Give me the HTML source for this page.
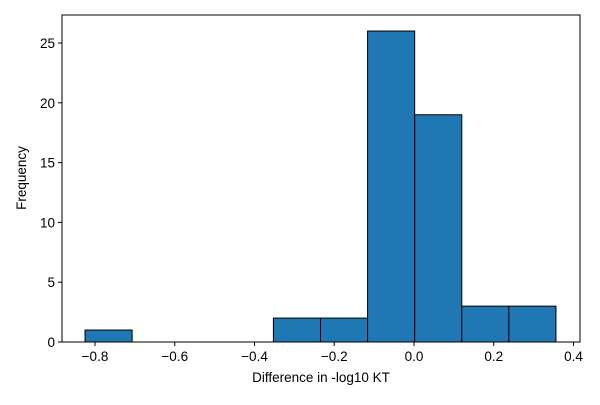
<!DOCTYPE html>
<html><head><meta charset="utf-8"><style>
body{margin:0;background:#fff}
svg text{font-family:"Liberation Sans","DejaVu Sans",sans-serif;font-size:13.5px;fill:#000}
</style></head><body>
<svg id="chart" width="600" height="400" viewBox="0 0 600 400" xmlns="http://www.w3.org/2000/svg">
<rect x="0" y="0" width="600" height="400" fill="#fff"/>
<g id="bars"></g>
<g id="axes"></g>
<text x="321" y="382" text-anchor="middle">Difference in -log10 KT</text>
<text transform="translate(26,178) rotate(-90)" text-anchor="middle">Frequency</text>
</svg>
<script>
const binStart = -0.825;
const binEnd = 0.356;
const counts = [1, 0, 0, 0, 2, 2, 26, 19, 3, 3];
const xTicks = [-0.8, -0.6, -0.4, -0.2, 0.0, 0.2, 0.4];
const xTickLabels = ["\u22120.8", "\u22120.6", "\u22120.4", "\u22120.2", "0.0", "0.2", "0.4"];
const yTicks = [0, 5, 10, 15, 20, 25];

const L = 62, R = 580, T = 15, B = 342;
const xPxPerUnit = 398.75, x0px = 414;
function xs(v){ return x0px + v * xPxPerUnit; }
const yPxPerUnit = 11.96;
function ys(v){ return B - v * yPxPerUnit; }
const NS = "http://www.w3.org/2000/svg";
function mk(tag, attrs, parent){
  const e = document.createElementNS(NS, tag);
  for (const k in attrs) e.setAttribute(k, attrs[k]);
  parent.appendChild(e);
  return e;
}
const bars = document.getElementById('bars');
const axes = document.getElementById('axes');
const w = (binEnd - binStart) / counts.length;
counts.forEach((c, i) => {
  if (c <= 0) return;
  const a = xs(binStart + i * w), b = xs(binStart + (i + 1) * w);
  const r = mk('rect', {x: a, y: ys(c), width: b - a, height: ys(0) - ys(c), fill: '#1f77b4', stroke: '#000', 'stroke-width': 1}, bars);
  
  
});
const frame = mk('rect', {x: L, y: T, width: R - L, height: B - T, fill: 'none', stroke: '#000', 'stroke-width': 1}, axes);


xTicks.forEach((t, i) => {
  const x = xs(t);
  const ln = mk('line', {x1: x, x2: x, y1: B, y2: B + 4, stroke: '#000'}, axes);
  
  
  const tx = mk('text', {x: x, y: B + 19, 'text-anchor': 'middle'}, axes);
  tx.textContent = xTickLabels[i];
  
  
});
yTicks.forEach(t => {
  const y = ys(t);
  const ln = mk('line', {x1: L - 4, x2: L, y1: y, y2: y, stroke: '#000'}, axes);
  
  
  const tx = mk('text', {x: L - 7, y: y + 5, 'text-anchor': 'end'}, axes);
  tx.textContent = String(t);
  
  
});
</script>
</body></html>
